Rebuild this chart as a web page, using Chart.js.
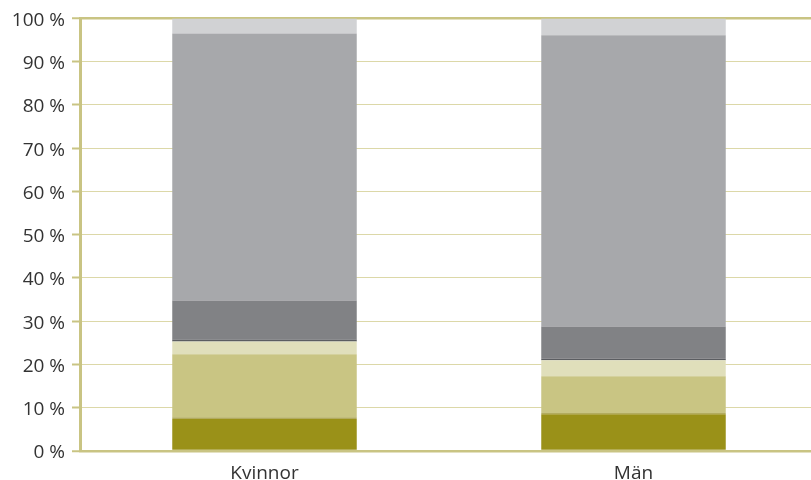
<!DOCTYPE html>
<html>
<head>
<meta charset="utf-8">
<script src="https://cdn.jsdelivr.net/npm/chart.js@4"></script>
<style>
  html, body { margin: 0; padding: 0; background: #fff; overflow: hidden; }
  #wrap { width: 818px; height: 480px; }
</style>
</head>
<body>
<div id="wrap"><canvas id="barChart" width="818" height="480"></canvas></div>
<script>
// categories and segment shares (percent), bottom to top
const categories = ["Kvinnor", "Män"];
const seg1 = [7.4, 8.5];
const seg2 = [0.4, 0.3];
const seg3 = [14.55, 8.5];
const seg4 = [2.95, 3.7];
const seg5 = [0.45, 0.3];
const seg6 = [9.05, 7.5];
const seg7 = [61.7, 67.3];
const seg8 = [3.5, 3.9];
const yTicks = [0, 10, 20, 30, 40, 50, 60, 70, 80, 90, 100];

const colors = ["#9a9118", "#b2ab5e", "#c9c583", "#e0dfbb", "#5b5d61", "#818285", "#a7a8ab", "#d1d2d4"];
const series = [seg1, seg2, seg3, seg4, seg5, seg6, seg7, seg8];

var ctx = document.getElementById("barChart").getContext("2d");
new Chart(ctx, {
    type: "bar",
    data: {
        labels: categories,
        datasets: series.map(function (d, i) {
            return {
                label: "s" + (i + 1),
                data: d,
                backgroundColor: colors[i],
                borderWidth: 0,
                categoryPercentage: 1,
                barPercentage: 0.5,
            };
        }),
    },
    options: {
        responsive: false,
        animation: false,
        layout: { padding: { top: 17, right: 0, bottom: 0, left: 0 } },
        plugins: { legend: { display: false }, tooltip: { enabled: false } },
        scales: {
            x: {
                stacked: true,
                grid: { display: false },
                border: { display: false },
                ticks: { color: "#333", font: { family: "Open Sans", size: 19 }, padding: 3 },
                afterFit: function (s) { s.height = 29; },
            },
            y: {
                stacked: true,
                min: 0,
                max: 100,
                afterBuildTicks: function (s) { s.ticks = yTicks.map(function (v) { return { value: v }; }); },
                afterFit: function (s) { s.width = 80; },
                grid: {
                    color: function (c) { return (c.tick && (c.tick.value === 0 || c.tick.value === 100)) ? "#c9c483" : "#dcd8a8"; },
                    lineWidth: function (c) { return (c.tick && (c.tick.value === 0 || c.tick.value === 100)) ? 2.5 : 1; },
                    tickColor: "#c9c483",
                    tickLength: 8,
                    tickWidth: 2,
                },
                border: { display: true, color: "#c9c483", width: 3 },
                ticks: {
                    color: "#333",
                    font: { family: "Open Sans", size: 19 },
                    padding: 7,
                    labelOffset: 2,
                    callback: function (v) { return v + " %"; },
                },
            },
        },
    },
});
</script>
</body>
</html>
